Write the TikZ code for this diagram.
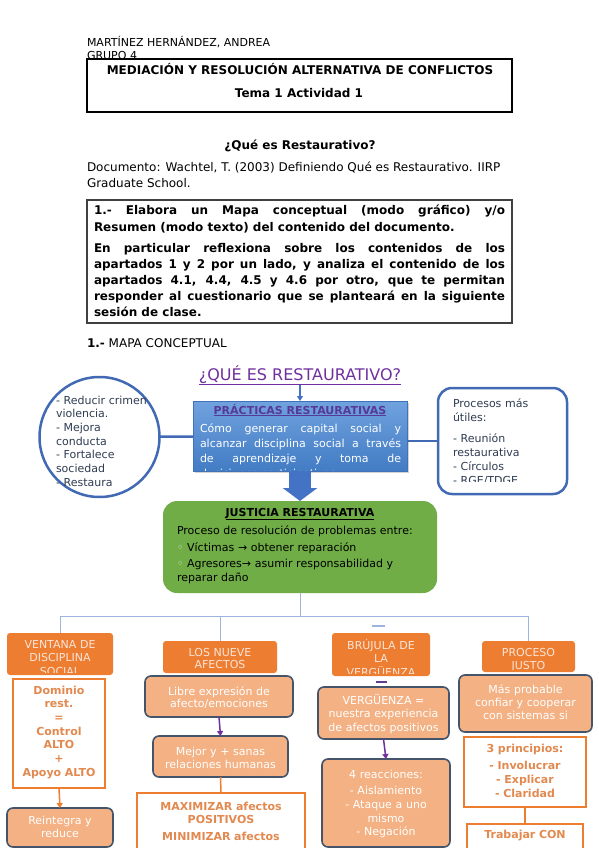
\documentclass[tikz,border=0pt]{standalone}
\usepackage{fontspec}
\setmainfont{DejaVu Sans}
\usetikzlibrary{arrows.meta,shadows}
\definecolor{titlepurple}{RGB}{112,48,160}
\definecolor{prtitle}{RGB}{88,58,150}
\definecolor{ringblue}{RGB}{65,105,180}
\definecolor{arrowblue}{RGB}{68,114,196}
\definecolor{prtop}{RGB}{112,162,222}
\definecolor{prbot}{RGB}{66,124,196}
\definecolor{prbord}{RGB}{65,113,185}
\definecolor{darktext}{RGB}{47,60,82}
\definecolor{grn}{RGB}{112,173,71}
\definecolor{bul}{RGB}{214,234,200}
\definecolor{treeblue}{RGB}{157,180,222}
\definecolor{hdrorange}{RGB}{237,125,49}
\definecolor{hdrtext}{RGB}{252,228,214}
\definecolor{loorange}{RGB}{244,177,131}
\definecolor{slate}{RGB}{68,84,106}
\definecolor{wotext}{RGB}{226,137,80}
\definecolor{boxgray}{RGB}{64,64,64}
\newcommand\bx[6]{\node[#1, minimum width={(#5)-(#3)}, minimum height={(#6)-(#4)}] (#2) at ({((#3)+(#5))/2},{((#4)+(#6))/2}) {};}
\begin{document}
\begin{tikzpicture}[x=1pt,y=-1pt,
  base/.style={inner sep=0pt, outer sep=0pt},
  tx/.style={base, anchor=base west, font=\fontsize{12}{14.4}\selectfont},
  ctext/.style={base, anchor=base, align=center, font=\fontsize{11}{13.5}\selectfont},
  btext/.style={base, anchor=base, align=center, font=\bfseries\fontsize{11}{13.7}\selectfont, text=wotext},
  hdr/.style={base, fill=hdrorange, rounded corners=3pt},
  lo/.style={base, fill=loorange, draw=slate, line width=1.6pt, rounded corners=6pt},
  wo/.style={base, fill=white, draw=hdrorange, line width=1.6pt},
  tree/.style={draw=treeblue, line width=1pt},
  ringline/.style={draw=ringblue, line width=2.5pt},
  parrow/.style={draw=titlepurple, line width=1.5pt, -{Triangle[length=5pt,width=6pt]}},
  oarrow/.style={draw=hdrorange, line width=1.5pt, -{Triangle[length=5pt,width=6pt]}},
  oline/.style={draw=hdrorange, line width=1.5pt}
]
\useasboundingbox (0,0) rectangle (599,848);
\fill[white] (0,0) rectangle (599,848);
\clip (0,0) rectangle (599,848);

% ---------- header ----------
\node[tx, font=\fontsize{11}{12}\selectfont] (nm) at (87,47) {MARTÍNEZ HERNÁNDEZ, ANDREA};
\node[tx, font=\fontsize{11}{12}\selectfont] (gr) at (87,59.5) {GRUPO 4};
\bx{base, draw=black, line width=1.5pt, fill=white}{tb}{87}{59}{512}{112}
\node[base, anchor=base, font=\bfseries\fontsize{12}{14}\selectfont] (t1) at (300,74.5) {MEDIACIÓN Y RESOLUCIÓN ALTERNATIVA DE CONFLICTOS};
\node[base, anchor=base, font=\bfseries\fontsize{12}{14}\selectfont] (t2) at (299,97.5) {Tema 1 Actividad 1};
\node[base, anchor=base, font=\bfseries\fontsize{12}{14}\selectfont] (q) at (300,149.5) {¿Qué es Restaurativo?};
\node[tx] (doc) at (87,171.5) {Documento: Wachtel, T. (2003) Definiendo Qué es Restaurativo. IIRP};
\node[tx] (doc2) at (87,187.5) {Graduate School.};

% ---------- instruction ----------
\bx{base, draw=boxgray, line width=1.5pt}{ib}{87}{200}{512}{323}
\node[base, anchor=base west, text width=411pt, align=justify, font=\bfseries\fontsize{12}{16.5}\selectfont] (pa) at (94,214.5) {1.- Elabora un Mapa conceptual (modo gráfico) y/o\linebreak Resumen (modo texto) del contenido del documento.};
\node[base, anchor=base west, text width=411pt, align=justify, font=\bfseries\fontsize{12}{16}\selectfont] (pb) at (94,252.5) {En particular reflexiona sobre los contenidos de los\linebreak apartados 1 y 2 por un lado, y analiza el contenido de los\linebreak apartados 4.1, 4.4, 4.5 y 4.6 por otro, que te permitan\linebreak responder al cuestionario que se planteará en la siguiente\linebreak sesión de clase.};
\node[tx] (sec) at (87,347.5) {\textbf{1.-} MAPA CONCEPTUAL};

% ---------- map top ----------
\node[base, anchor=base, font=\fontsize{16}{19}\selectfont, text=titlepurple] (mt) at (300,380) {\underline{¿QUÉ ES RESTAURATIVO?}};

\bx{base, draw=prbord, line width=0.8pt, top color=prtop, bottom color=prbot, drop shadow={opacity=0.35, shadow xshift=2pt, shadow yshift=-2pt}}{pr}{193}{401}{407}{471}
\node[base, anchor=base, font=\bfseries\fontsize{11}{13}\selectfont, text=prtitle] (prt) at (300,414) {\underline{PRÁCTICAS RESTAURATIVAS}};
\begin{scope}
\clip (194,402) rectangle (406,470.5);
\node[base, anchor=base west, text width=201pt, align=justify, font=\fontsize{11}{15}\selectfont, text=white] (prb) at (200,432) {Cómo generar capital social y\linebreak alcanzar disciplina social a través\linebreak de aprendizaje y toma de\linebreak decisiones participativas};
\end{scope}

\node[base, circle, draw=ringblue, line width=2.5pt, fill=white, minimum size=120pt] (cir) at (99.5,437) {};
\node[base, anchor=base west, text width=120pt, align=left, font=\fontsize{11}{13.7}\selectfont, text=darktext] (cirt) at (56,404) {- Reducir crimen\\violencia.\\- Mejora\\conducta\\- Fortalece\\sociedad\\- Restaura};

\bx{base, draw=ringblue, line width=2.5pt, fill=white, rounded corners=14pt}{rb}{438}{388}{567}{494}
\begin{scope}
\clip (441,391) rectangle (564,481);
\node[base, anchor=base west, text width=110pt, align=left, font=\fontsize{11}{14}\selectfont, text=darktext] (rbt) at (453,407) {Procesos más\\útiles:\\[7pt]- Reunión\\restaurativa\\- Círculos\\- RGE/TDGE};
\end{scope}

\draw[ringline] (cir) -- (pr);
\draw[ringline] (pr.east |- rb.west) -- (rb.west);
\draw[draw=arrowblue, line width=1.3pt, -{Triangle[length=5pt,width=6pt]}] (mt.south) -- (pr.north);

% ---------- justicia ----------
\bx{base, fill=grn, rounded corners=14pt}{jr}{163}{501}{437}{593}
\draw[draw=arrowblue, line width=22pt, -{Triangle[width=34pt,length=13pt]}] (pr.south) -- (jr.north);
\node[base, anchor=base, font=\bfseries\fontsize{11}{13}\selectfont] (jrt) at (300,516) {\underline{JUSTICIA RESTAURATIVA}};
\node[base, anchor=base west, text width=255pt, align=left, font=\fontsize{11}{14}\selectfont] (jrb) at (177,534) {Proceso de resolución de problemas entre:\\[3pt]{\color{bul}◦} Víctimas → obtener reparación\\[2pt]{\color{bul}◦} Agresores→ asumir responsabilidad y\\reparar daño};

% ---------- column 1 ----------
\bx{hdr}{v1}{7}{633}{113}{675}
\begin{scope}
\clip (7,633) rectangle (113,672);
\node[ctext, text width=106pt, text=hdrtext, font=\fontsize{11}{13.7}\selectfont] (v1t) at (60,648) {VENTANA DE\\DISCIPLINA\\SOCIAL};
\end{scope}
\bx{wo}{d1}{13}{679}{105}{788}
\node[btext, text width=92pt] (d1t) at (59,694) {Dominio\\rest.\\=\\Control\\ALTO\\+\\Apoyo ALTO};
\bx{lo}{r1}{7}{808}{113}{847}
\node[ctext, text width=100pt, text=white] (r1t) at (60,824) {Reintegra y\\reduce};
\draw[oarrow] (d1.south) -- (r1.north);

% ---------- column 2 ----------
\bx{hdr}{n1}{163}{641}{277}{673}
\node[ctext, text width=114pt, text=hdrtext, font=\fontsize{11}{12.5}\selectfont] (n1t) at (220,656) {LOS NUEVE\\AFECTOS};
\bx{lo}{n2}{145}{676}{293}{717}
\node[ctext, text width=146pt, text=white, font=\fontsize{11}{12.5}\selectfont] (n2t) at (219,695) {Libre expresión de\\afecto/emociones};
\bx{lo}{n3}{153}{736}{288}{777}
\node[ctext, text width=133pt, text=white, font=\fontsize{11}{13}\selectfont] (n3t) at (220.5,755) {Mejor y + sanas\\relaciones humanas};
\bx{wo}{n4}{137}{793}{305}{880}
\node[btext, text width=166pt, font=\bfseries\fontsize{11}{13}\selectfont] (n4t) at (221,810) {MAXIMIZAR afectos\\POSITIVOS\\[4pt]MINIMIZAR afectos};
\draw[parrow] (n2.south) -- (n3.north);
\draw[oline] (n3.south) -- (n4.north);

% ---------- column 3 ----------
\bx{hdr}{b1}{332}{633}{430}{676}
\begin{scope}
\clip (332,633) rectangle (430,673);
\node[ctext, text width=98pt, text=hdrtext] (b1t) at (381,649) {BRÚJULA DE\\LA\\VERGÜENZA};
\end{scope}
\bx{lo}{b2}{318}{687}{449}{739}
\node[ctext, text width=129pt, text=white] (b2t) at (383.5,704) {VERGÜENZA =\\nuestra experiencia\\de afectos positivos};
\bx{lo}{b3}{322}{759}{450}{847}
\node[ctext, text width=126pt, text=white, font=\fontsize{11}{13.7}\selectfont] (b3t) at (386,778) {4 reacciones:\\[3pt]- Aislamiento\\- Ataque a uno\\mismo\\- Negación};
\draw[parrow] (b2.south) -- (b3.north);
\draw[draw=treeblue, line width=1.5pt] (372,626) -- (385,626);
\draw[draw=titlepurple!70!slate, line width=1.5pt] (376,682) -- (387,682);

% ---------- column 4 ----------
\bx{hdr}{pj}{482}{641}{575}{672}
\begin{scope}
\clip (482,641) rectangle (575,669.5);
\node[ctext, text width=93pt, text=hdrtext, font=\fontsize{11}{13}\selectfont] (pjt) at (528.5,656) {PROCESO\\JUSTO};
\end{scope}
\bx{lo}{pj2}{459}{675}{592}{732}
\node[ctext, text width=131pt, text=white, font=\fontsize{11}{13}\selectfont] (pj2t) at (525.5,693) {Más probable\\confiar y cooperar\\con sistemas si};
\bx{wo}{pj3}{464}{737}{586}{807}
\node[btext, text width=120pt] (pj3t) at (525,752) {3 principios:\\[4pt]- Involucrar\\- Explicar\\- Claridad};
\bx{wo}{pj4}{467}{824}{583}{880}
\node[btext, text width=114pt] (pj4t) at (525,838) {Trabajar CON};
\draw[oline] (pj3.south) -- (pj4.north);

% ---------- tree ----------
\coordinate (hy) at (0,616);
\draw[tree] (jr.south) -- (jr.south |- hy) -| (v1.north);
\draw[tree] (jr.south |- hy) -| (n1.north);
\draw[tree] (jr.south |- hy) -| (pj.north);
\end{tikzpicture}
\end{document}
